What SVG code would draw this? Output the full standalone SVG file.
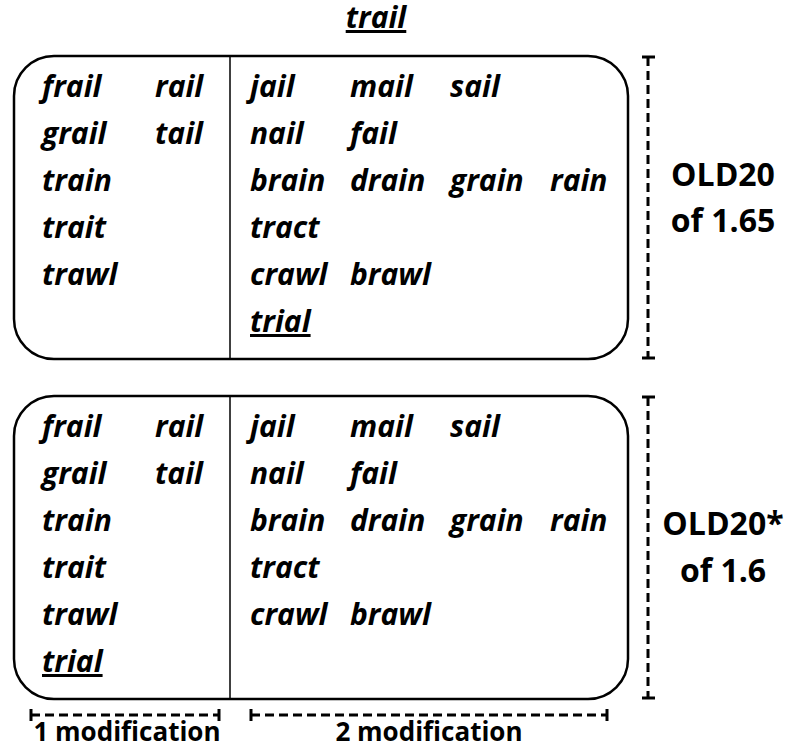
<svg xmlns="http://www.w3.org/2000/svg" width="790" height="744" viewBox="0 0 790 744">
<style>
.w{font-family:"Open Sans","DejaVu Sans",sans-serif;font-weight:bold;font-style:italic;font-size:30px;fill:#000}
.lab{font-family:"Open Sans","DejaVu Sans",sans-serif;font-weight:bold;font-size:32px;fill:#000}
.mod{font-family:"Open Sans","DejaVu Sans",sans-serif;font-weight:bold;font-size:26px;fill:#000}
.box{fill:none;stroke:#000;stroke-width:2.5}
.div{stroke:#000;stroke-width:1.5}
.dash{stroke:#000;stroke-width:3;stroke-dasharray:9 5;fill:none}
.cap{stroke:#000;stroke-width:3}
</style>
<g id="title">
<text class="w" x="376" y="28" text-anchor="middle" text-decoration="underline" font-size="29">trail</text>
</g>
<g id="box1">
<rect class="box" x="14" y="56" width="614" height="303" rx="40"/>
<line class="div" x1="230" y1="55" x2="230" y2="360"/>
<text class="w" x="42" y="97">frail</text><text class="w" x="155" y="97">rail</text>
<text class="w" x="42" y="144">grail</text><text class="w" x="155" y="144">tail</text>
<text class="w" x="42" y="191">train</text>
<text class="w" x="42" y="238">trait</text>
<text class="w" x="42" y="285">trawl</text>
<text class="w" x="250" y="97">jail</text><text class="w" x="350" y="97">mail</text><text class="w" x="450" y="97">sail</text>
<text class="w" x="250" y="144">nail</text><text class="w" x="350" y="144">fail</text>
<text class="w" x="250" y="191">brain</text><text class="w" x="350" y="191">drain</text><text class="w" x="450" y="191">grain</text><text class="w" x="550" y="191">rain</text>
<text class="w" x="250" y="238">tract</text>
<text class="w" x="250" y="285">crawl</text><text class="w" x="350" y="285">brawl</text>
<text class="w" x="250" y="332" text-decoration="underline">trial</text>
</g>
<g id="box2">
<rect class="box" x="14" y="396" width="614" height="303" rx="40"/>
<line class="div" x1="230" y1="395" x2="230" y2="700"/>
<text class="w" x="42" y="437">frail</text><text class="w" x="155" y="437">rail</text>
<text class="w" x="42" y="484">grail</text><text class="w" x="155" y="484">tail</text>
<text class="w" x="42" y="531">train</text>
<text class="w" x="42" y="578">trait</text>
<text class="w" x="42" y="625">trawl</text>
<text class="w" x="42" y="672" text-decoration="underline">trial</text>
<text class="w" x="250" y="437">jail</text><text class="w" x="350" y="437">mail</text><text class="w" x="450" y="437">sail</text>
<text class="w" x="250" y="484">nail</text><text class="w" x="350" y="484">fail</text>
<text class="w" x="250" y="531">brain</text><text class="w" x="350" y="531">drain</text><text class="w" x="450" y="531">grain</text><text class="w" x="550" y="531">rain</text>
<text class="w" x="250" y="578">tract</text>
<text class="w" x="250" y="625">crawl</text><text class="w" x="350" y="625">brawl</text>
</g>
<g id="connectors">
<line class="dash" x1="648" y1="57" x2="648" y2="358"/>
<line class="cap" x1="642" y1="57" x2="655" y2="57"/>
<line class="cap" x1="642" y1="358" x2="655" y2="358"/>
<line class="dash" x1="648" y1="397" x2="648" y2="698"/>
<line class="cap" x1="642" y1="397" x2="655" y2="397"/>
<line class="cap" x1="642" y1="698" x2="655" y2="698"/>
<line class="dash" x1="31" y1="715" x2="219" y2="715"/>
<line class="cap" x1="31" y1="709" x2="31" y2="721"/>
<line class="cap" x1="219" y1="709" x2="219" y2="721"/>
<line class="dash" x1="251" y1="715" x2="607" y2="715"/>
<line class="cap" x1="251" y1="709" x2="251" y2="721"/>
<line class="cap" x1="607" y1="709" x2="607" y2="721"/>
</g>
<g id="label1">
<text class="lab" x="723" y="186" text-anchor="middle">OLD20</text>
<text class="lab" x="723" y="232" text-anchor="middle">of 1.65</text>
</g>
<g id="label2">
<text class="lab" x="723" y="535" text-anchor="middle">OLD20*</text>
<text class="lab" x="723" y="582" text-anchor="middle">of 1.6</text>
</g>
<g id="mods">
<text class="mod" x="127" y="741" text-anchor="middle">1 modification</text>
<text class="mod" x="429" y="741" text-anchor="middle">2 modification</text>
</g>
</svg>
